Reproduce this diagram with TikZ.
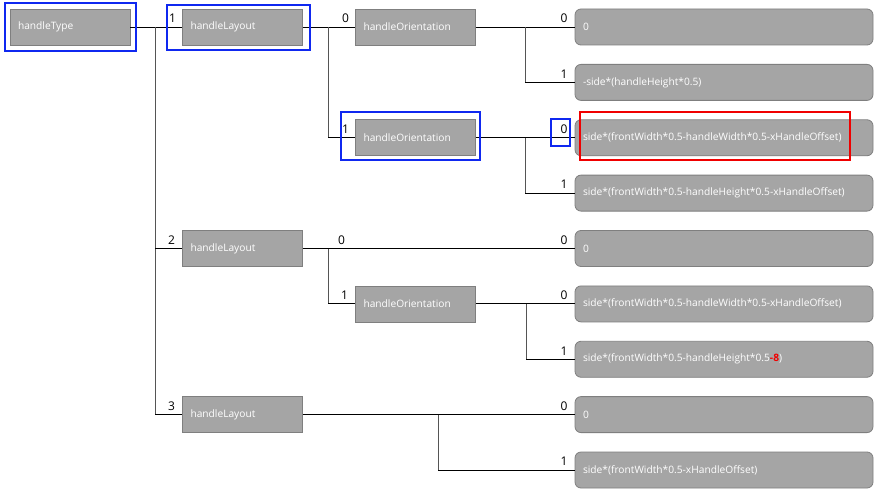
\documentclass[tikz,border=0pt]{standalone}
\usepackage{fontspec}
\setmainfont{Open Sans}
\definecolor{boxfill}{RGB}{165,165,165}
\definecolor{boxedge}{RGB}{127,127,127}
\definecolor{vgray}{RGB}{85,85,85}
\definecolor{hlblue}{RGB}{15,40,240}
\definecolor{hlred}{RGB}{240,0,0}
\begin{document}
\begin{tikzpicture}[x=1pt,y=-1pt,
  decbox/.style={draw=boxedge, fill=boxfill, minimum height=36pt, text width=104pt,
    inner xsep=8pt, inner ysep=0pt, align=left, text=white,
    font=\fontsize{10.2}{11}\selectfont, line width=0.8pt},
  resbox/.style={decbox, rounded corners=6pt, text width=282pt},
  lab/.style={anchor=south east, inner sep=0pt, font=\fontsize{12}{12}\selectfont},
  hline/.style={line width=0.9pt, black},
  vline/.style={line width=0.9pt, vgray},
  hlb/.style={draw=hlblue, line width=1.6pt},
  hlr/.style={draw=hlred, line width=1.6pt}]
\fill[white] (0,0) rectangle (885,500);
\useasboundingbox (0,0) rectangle (885,500);
% nodes
\node[decbox] (ht)  at (70,27)      {handleType};
\node[decbox] (hl1) at (242.5,27)   {handleLayout};
\node[decbox] (ho1) at (415.5,27)   {handleOrientation};
\node[resbox] (r1)  at (724,27)     {0};
\node[resbox] (r2)  at (724,82.4)   {-side*(handleHeight*0.5)};
\node[decbox] (ho2) at (415.5,137.75) {handleOrientation};
\node[resbox] (r3)  at (724,137.75) {side*(frontWidth*0.5-handleWidth*0.5-xHandleOffset)};
\node[resbox] (r4)  at (724,193.1)  {side*(frontWidth*0.5-handleHeight*0.5-xHandleOffset)};
\node[decbox] (hl2) at (242.5,248.5) {handleLayout};
\node[resbox] (r5)  at (724,248.5)  {0};
\node[decbox] (ho3) at (415.5,303.9) {handleOrientation};
\node[resbox] (r6)  at (724,303.9)  {side*(frontWidth*0.5-handleWidth*0.5-xHandleOffset)};
\node[resbox] (r7)  at (724,359.25) {side*(frontWidth*0.5-handleHeight*0.5{\color{hlred}\bfseries-8})};
\node[decbox] (hl3) at (242.5,414.6) {handleLayout};
\node[resbox] (r8)  at (724,414.6)  {0};
\node[resbox] (r9)  at (724,470)    {side*(frontWidth*0.5-xHandleOffset)};
% junctions
\coordinate (j1) at (155,27);
\coordinate (j2) at (328,27);
\coordinate (j3) at (525,27);
\coordinate (j4) at (525,137.75);
\coordinate (j5) at (328,248.5);
\coordinate (j6) at (526,303.9);
\coordinate (j7) at (438,414.6);
% connectors
\draw[hline] (ht.east) -- (hl1.west);
\draw[vline] (j1) -- (j1 |- hl3.west);
\draw[hline] (j1 |- hl2.west) -- (hl2.west);
\draw[hline] (j1 |- hl3.west) -- (hl3.west);
\draw[hline] (hl1.east) -- (ho1.west);
\draw[vline] (j2) -- (j2 |- ho2.west);
\draw[hline] (j2 |- ho2.west) -- (ho2.west);
\draw[hline] (ho1.east) -- (r1.west);
\draw[vline] (j3) -- (j3 |- r2.west);
\draw[hline] (j3 |- r2.west) -- (r2.west);
\draw[hline] (ho2.east) -- (r3.west);
\draw[vline] (j4) -- (j4 |- r4.west);
\draw[hline] (j4 |- r4.west) -- (r4.west);
\draw[hline] (hl2.east) -- (r5.west);
\draw[vline] (j5) -- (j5 |- ho3.west);
\draw[hline] (j5 |- ho3.west) -- (ho3.west);
\draw[hline] (ho3.east) -- (r6.west);
\draw[vline] (j6) -- (j6 |- r7.west);
\draw[hline] (j6 |- r7.west) -- (r7.west);
\draw[hline] (hl3.east) -- (r8.west);
\draw[vline] (j7) -- (j7 |- r9.west);
\draw[hline] (j7 |- r9.west) -- (r9.west);
% branch labels
\node[lab] (l1)  at ([xshift=-6pt,yshift=4pt]hl1.west) {1};
\node[lab] (l2)  at ([xshift=-6pt,yshift=4pt]ho1.west) {0};
\node[lab] (l3)  at ([xshift=-7pt,yshift=4pt]r1.west) {0};
\node[lab] (l4)  at ([xshift=-7pt,yshift=4pt]r2.west) {1};
\node[lab] (l5)  at ([xshift=-6pt,yshift=4pt]ho2.west) {1};
\node[lab] (l6)  at ([xshift=-7pt,yshift=4pt]r3.west) {0};
\node[lab] (l7)  at ([xshift=-7pt,yshift=4pt]r4.west) {1};
\node[lab] (l8)  at ([xshift=-7pt,yshift=4pt]hl2.west) {2};
\node[lab] (l9)  at ([xshift=-10pt,yshift=4pt]ho3.west |- hl2.east) {0};
\node[lab] (l10) at ([xshift=-7pt,yshift=4pt]r5.west) {0};
\node[lab] (l11) at ([xshift=-7pt,yshift=4pt]ho3.west) {1};
\node[lab] (l12) at ([xshift=-7pt,yshift=4pt]r6.west) {0};
\node[lab] (l13) at ([xshift=-7pt,yshift=4pt]r7.west) {1};
\node[lab] (l14) at ([xshift=-7pt,yshift=4pt]hl3.west) {3};
\node[lab] (l15) at ([xshift=-7pt,yshift=4pt]r8.west) {0};
\node[lab] (l16) at ([xshift=-7pt,yshift=4pt]r9.west) {1};
% highlights
\draw[hlb] (5,3) rectangle (136,51);
\draw[hlb] (167,5) rectangle (310,50);
\draw[hlb] (341,112) rectangle (480,160);
\draw[hlb] (551,119) rectangle (570,146);
\draw[hlr] (580,112) rectangle (850,160);
\end{tikzpicture}
\end{document}
